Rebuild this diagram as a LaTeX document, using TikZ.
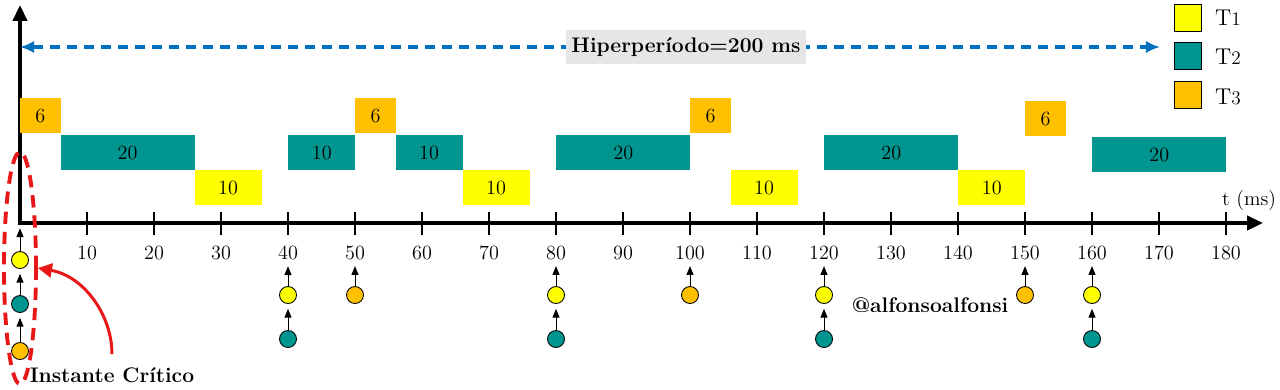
\documentclass[tikz,border=0pt]{standalone}
\usetikzlibrary{arrows.meta,shapes.geometric}

\definecolor{tyellow}{RGB}{255,255,0}
\definecolor{tteal}{RGB}{0,150,143}
\definecolor{torange}{RGB}{255,192,0}
\definecolor{hpblue}{RGB}{0,112,192}
\definecolor{hpgray}{RGB}{230,230,230}
\definecolor{critred}{RGB}{232,24,24}

\begin{document}
\begin{tikzpicture}[x=0.02cm, y=0.02cm,
    task/.style={anchor=north west, inner sep=0pt, minimum height=0.7cm,
        font=\fontsize{11.5}{13}\selectfont},
    t1box/.style={task, fill=tyellow},
    t2box/.style={task, fill=tteal},
    t3box/.style={task, fill=torange},
    axis/.style={line width=2pt, {Triangle[length=9pt,width=8pt]}-{Triangle[length=9pt,width=8pt]}},
    tick/.style={line width=1.6pt},
    hparrow/.style={hpblue, line width=1.8pt, dash pattern=on 5.7pt off 4pt,
        {Latex[length=8pt,width=7pt]}-{Latex[length=8pt,width=7pt]}},
    arrival/.style={circle, draw=black, line width=0.5pt, minimum size=0.34cm, inner sep=0pt},
    release/.style={line width=0.5pt, -{Triangle[length=5pt,width=4pt]}},
    legend/.style={draw=black, line width=0.8pt, minimum size=0.54cm, inner sep=0pt},
    critarrow/.style={critred, line width=1.7pt, -{Triangle[length=8pt,width=8pt]}},
    lbl/.style={font=\fontsize{11.5}{13}\selectfont},
]
\useasboundingbox (0,0) rectangle (1280,-389);

% Axes
\coordinate (origin) at (20,-223);
\coordinate (vend) at (20,-5);
\coordinate (tend) at (1263,-223);
\draw[axis] (vend) -- (origin) -- (tend);
\node[lbl] (tunit) at (1249,-200) {t (ms)};

% Ticks
\foreach \t in {10,20,...,180} {
    \draw[tick] ({20+6.7*\t},-212) -- ({20+6.7*\t},-235);
    \node[lbl] (l\t) at ({20+6.7*\t},-253) {\t};
}

% Hyperperiod
\coordinate (hpstart) at (20,-47);
\coordinate (hpend) at (1160,-47);
\draw[hparrow] (hpstart) -- (hpend);
\node[fill=hpgray, minimum width=4.7cm, minimum height=0.68cm,
    font=\bfseries\fontsize{12}{14}\selectfont] (hp) at (686,-47) {Hiperperíodo=200 ms};

% Legend
\node[legend, fill=tyellow] (k1) at (1188,-18) {};
\node[legend, fill=tteal] (k2) at (1188,-56) {};
\node[legend, fill=torange] (k3) at (1188,-95) {};
\node[anchor=west, font=\fontsize{13}{15}\selectfont] (k1t) at (1209,-18) {T{\fontsize{11}{13}\selectfont 1}};
\node[anchor=west, font=\fontsize{13}{15}\selectfont] (k2t) at (1209,-57) {T{\fontsize{11}{13}\selectfont 2}};
\node[anchor=west, font=\fontsize{13}{15}\selectfont] (k3t) at (1209,-97) {T{\fontsize{11}{13}\selectfont 3}};

% Schedule (6.7 px per ms)
\node[t3box, minimum width=0.804cm] (s1) at (20,-98) {6};
\node[t2box, minimum width=2.68cm] (s2) at ({20+6.7*6},-135) {20};
\node[t1box, minimum width=1.34cm] (s3) at ({20+6.7*26},-170) {10};
\node[t2box, minimum width=1.34cm] (s4) at ({20+6.7*40},-135) {10};
\node[t3box, minimum width=0.804cm] (s5) at ({20+6.7*50},-98) {6};
\node[t2box, minimum width=1.34cm] (s6) at ({20+6.7*56},-135) {10};
\node[t1box, minimum width=1.34cm] (s7) at ({20+6.7*66},-170) {10};
\node[t2box, minimum width=2.68cm] (s8) at ({20+6.7*80},-135) {20};
\node[t3box, minimum width=0.804cm] (s9) at ({20+6.7*100},-98) {6};
\node[t1box, minimum width=1.34cm] (s10) at ({20+6.7*106},-170) {10};
\node[t2box, minimum width=2.68cm] (s11) at ({20+6.7*120},-135) {20};
\node[t1box, minimum width=1.34cm] (s12) at ({20+6.7*140},-170) {10};
\node[t3box, minimum width=0.804cm] (s13) at ({20+6.7*150},-101) {6};
\node[t2box, minimum width=2.68cm] (s14) at ({20+6.7*160},-137) {20};

% Arrivals at the critical instant
\node[arrival, fill=tyellow] (r0a) at (20,-260) {};
\node[arrival, fill=tteal] (r0b) at (20,-304) {};
\node[arrival, fill=torange] (r0c) at (20,-351) {};
\draw[release, shorten >=3pt] (r0a) -- (origin);
\draw[release, shorten >=2.8pt] (r0b) -- (r0a);
\draw[release, shorten >=2.8pt] (r0c) -- (r0b);

% Arrivals of T1 and T2
\foreach \t in {40,80,120,160} {
    \node[arrival, fill=tyellow] (r\t a) at ({20+6.7*\t},-295) {};
    \node[arrival, fill=tteal] (r\t b) at ({20+6.7*\t},-339) {};
    \draw[release] (r\t a) -- (l\t);
    \draw[release, shorten >=2.8pt] (r\t b) -- (r\t a);
}

% Arrivals of T3
\foreach \t in {50,100,150} {
    \node[arrival, fill=torange] (r\t c) at ({20+6.7*\t},-295) {};
    \draw[release] (r\t c) -- (l\t);
}

% Critical instant
\node[ellipse, draw=critred, line width=2.2pt, dash pattern=on 7pt off 4.5pt,
    minimum width=0.64cm, minimum height=4.64cm, inner sep=0pt] (crit) at (20,-268) {};
\node[font=\bfseries\fontsize{12}{14}\selectfont] (inst) at (112,-375) {Instante Crítico};
\draw[critarrow, shorten <=4pt] (inst.north) to[out=90, in=-10] (crit.east);

\node[font=\bfseries\fontsize{12}{14}\selectfont] (wm) at (930,-305) {@alfonsoalfonsi};

\end{tikzpicture}
\end{document}
